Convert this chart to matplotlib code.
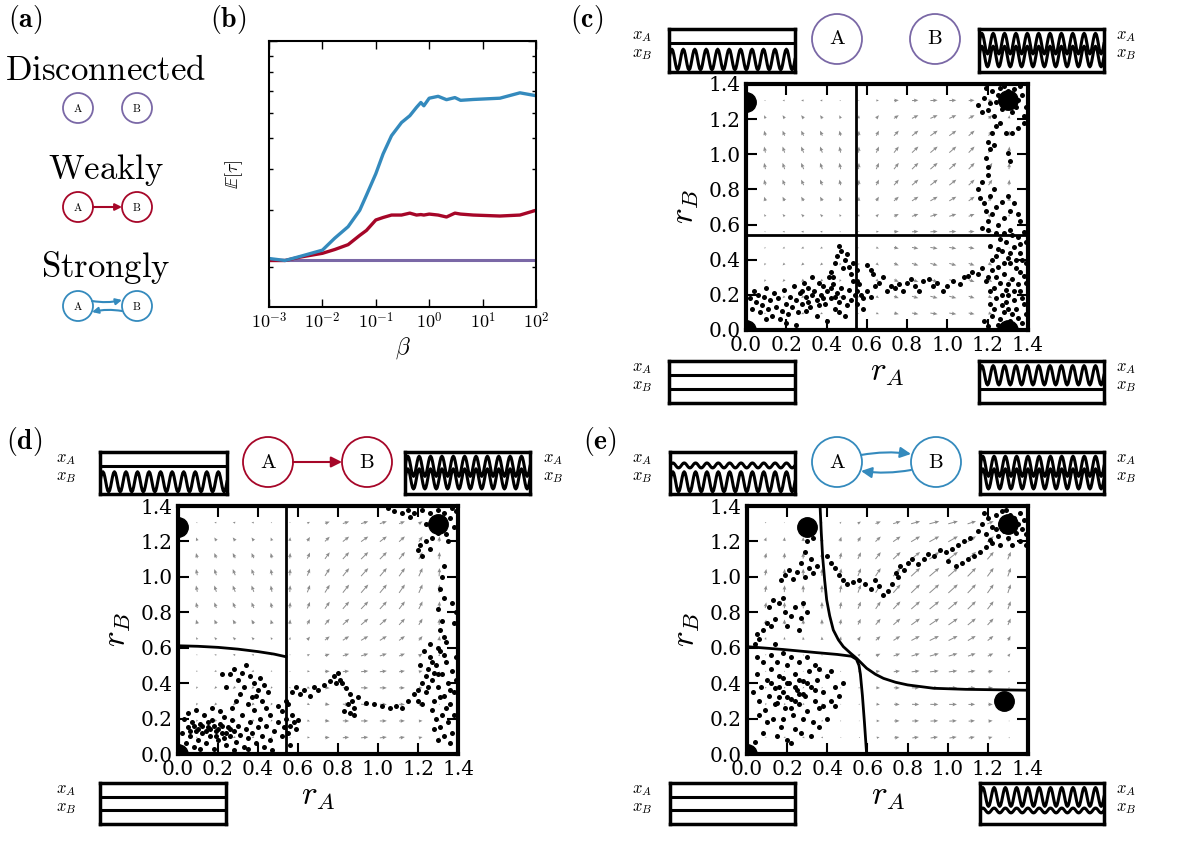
import numpy as np
import matplotlib
matplotlib.use('Agg')
import matplotlib.pyplot as plt
from matplotlib.patches import Circle
from matplotlib.ticker import NullFormatter

plt.rcParams['font.family'] = 'serif'
plt.rcParams['font.serif'] = ['DejaVu Serif']
plt.rcParams['mathtext.fontset'] = 'cm'

W, H = 1200, 852
BLUE, RED, PURPLE = '#348ABD', '#A60628', '#7A68A6'

# ---- panel (b) data: expected time vs coupling beta
beta = [0.001, 0.002, 0.00376, 0.01, 0.017, 0.0303, 0.05, 0.0668, 0.1, 0.137,
        0.197, 0.303, 0.434, 0.579, 0.698, 0.794, 1.0, 1.47, 2.11, 3.03,
        3.87, 6.68, 21.1, 50.0, 100.0]
tau_strong = [2.12, 2.09, 2.15, 2.25, 2.45, 2.66, 2.99, 3.33, 3.88, 4.47,
              5.09, 5.59, 5.87, 6.23, 6.45, 6.30, 6.65, 6.74, 6.58, 6.68,
              6.55, 6.59, 6.65, 6.91, 6.77]
tau_weak = [2.09, 2.09, 2.14, 2.20, 2.26, 2.34, 2.50, 2.59, 2.79, 2.84,
            2.89, 2.89, 2.93, 2.89, 2.90, 2.89, 2.91, 2.89, 2.85, 2.93,
            2.91, 2.89, 2.87, 2.89, 2.99]
tau_disc = [2.10] * len(beta)
beta_ticks = [1e-3, 1e-2, 1e-1, 1e0, 1e1, 1e2]

# ---- phase plane flow field (grid values)
r_grid = np.linspace(0, 1.4, 16)
f_self = [0.0, -0.012, -0.02, -0.024, -0.022, -0.012, 0.004, 0.025, 0.045,
          0.06, 0.068, 0.066, 0.055, 0.035, 0.004, -0.03]
g_weak = [0, 0, 0, 0, 0, 0, 0.005, 0.01, 0.015, 0.018, 0.02, 0.021, 0.022,
          0.022, 0.022, 0.022]
g_strong = [0, 0.002, 0.005, 0.008, 0.011, 0.014, 0.017, 0.019, 0.021, 0.022,
            0.023, 0.024, 0.025, 0.025, 0.025, 0.025]

# ---- trajectories (r_A, r_B)
pts_c = [
    (0.02,0.18),(0.03,0.12),(0.04,0.22),(0.05,0.16),(0.06,0.20),(0.07,0.10),(0.08,0.14),(0.09,0.19),
    (0.10,0.24),(0.11,0.12),(0.12,0.17),(0.13,0.08),(0.14,0.21),(0.15,0.13),(0.16,0.18),(0.17,0.06),
    (0.18,0.11),(0.19,0.23),(0.20,0.15),(0.21,0.09),(0.22,0.19),(0.23,0.13),(0.24,0.25),(0.25,0.17),
    (0.26,0.10),(0.27,0.21),(0.28,0.15),(0.29,0.27),(0.30,0.19),(0.31,0.24),(0.32,0.13),(0.33,0.30),
    (0.34,0.22),(0.35,0.17),(0.36,0.27),(0.37,0.20),(0.38,0.25),(0.39,0.15),(0.40,0.22),(0.41,0.30),
    (0.42,0.18),(0.43,0.26),(0.44,0.12),(0.45,0.21),(0.46,0.16),(0.47,0.24),(0.48,0.19),(0.49,0.08),
    (0.50,0.14),(0.51,0.23),(0.52,0.17),(0.53,0.28),(0.54,0.20),(0.35,0.08),(0.30,0.11),(0.25,0.03),
    (0.40,0.05),(0.46,0.10),(0.20,0.04),(0.10,0.06),(0.33,0.20),(0.38,0.18),(0.42,0.24),(0.28,0.22),
    (0.36,0.14),(0.44,0.19),(0.31,0.16),
    (0.42,0.33),(0.44,0.38),(0.45,0.42),(0.46,0.48),(0.47,0.45),(0.49,0.40),(0.50,0.43),(0.51,0.36),
    (0.48,0.35),(0.43,0.30),(0.52,0.32),(0.53,0.38),(0.55,0.34),
    (0.55,0.28),(0.55,0.22),(0.56,0.26),(0.55,0.15),(0.57,0.20),
    (0.58,0.18),(0.60,0.22),(0.62,0.19),(0.64,0.25),(0.66,0.27),(0.68,0.30),(0.70,0.22),(0.72,0.25),
    (0.74,0.24),(0.76,0.26),(0.78,0.22),(0.80,0.27),(0.82,0.29),(0.84,0.25),(0.86,0.22),(0.88,0.28),
    (0.91,0.29),(0.93,0.25),(0.95,0.27),(0.98,0.22),(1.00,0.25),(1.03,0.28),(1.06,0.26),(1.08,0.30),
    (1.10,0.31),(1.12,0.33),(1.15,0.32),(1.17,0.35),(0.62,0.34),(0.60,0.37),(0.63,0.32),(0.58,0.12),
    (1.20,0.02),(1.22,0.08),(1.25,0.03),(1.28,0.10),(1.31,0.05),(1.34,0.12),(1.37,0.04),(1.39,0.09),
    (1.21,0.15),(1.24,0.18),(1.27,0.14),(1.30,0.20),(1.33,0.17),(1.36,0.22),(1.38,0.15),(1.23,0.24),
    (1.26,0.27),(1.29,0.23),(1.32,0.29),(1.35,0.26),(1.38,0.31),(1.20,0.30),(1.22,0.34),(1.25,0.36),
    (1.28,0.32),(1.31,0.38),(1.34,0.35),(1.37,0.40),(1.24,0.42),(1.27,0.45),(1.30,0.41),(1.33,0.47),
    (1.36,0.44),(1.39,0.50),(1.21,0.48),(1.26,0.52),(1.29,0.50),(1.32,0.54),(1.35,0.53),(1.38,0.56),
    (1.23,0.12),(1.26,0.06),(1.29,0.16),(1.32,0.09),(1.35,0.07),(1.30,0.26),(1.27,0.20),(1.24,0.30),
    (1.33,0.22),(1.36,0.33),(1.28,0.38),(1.31,0.44),(1.25,0.46),(1.34,0.40),(1.22,0.40),(1.30,0.12),
    (1.27,0.02),(1.33,0.02),(1.37,0.18),(1.39,0.27),(1.39,0.38),(1.21,0.22),(1.19,0.28),(1.18,0.05),
    (1.36,0.49),(1.28,0.55),(1.24,0.55),(1.31,0.57),
    (1.17,0.58),(1.20,0.62),(1.22,0.66),(1.25,0.60),(1.28,0.64),(1.31,0.68),(1.18,0.72),(1.21,0.76),
    (1.15,0.80),(1.17,0.84),(1.24,0.70),(1.27,0.73),(1.30,0.76),(1.33,0.72),(1.35,0.66),(1.19,0.68),
    (1.23,0.80),(1.16,0.75),(1.20,0.57),(1.36,0.62),
    (1.20,0.88),(1.20,0.93),(1.19,0.98),(1.21,1.03),(1.20,1.07),(1.22,1.12),(1.24,1.16),(1.26,1.18),
    (1.23,1.05),(1.29,1.12),(1.32,1.12),(1.35,1.15),(1.38,1.18),(1.30,1.01),(1.31,0.96),
    (1.15,1.28),(1.18,1.32),(1.20,1.25),(1.22,1.36),(1.24,1.30),(1.26,1.38),(1.27,1.26),(1.29,1.33),
    (1.31,1.29),(1.33,1.37),(1.35,1.31),(1.37,1.34),(1.39,1.27),(1.23,1.22),(1.28,1.39),(1.32,1.24),
    (1.36,1.39),(1.19,1.38),(1.25,1.34),(1.30,1.36),(1.34,1.27),(1.38,1.22),(1.21,1.29),(1.17,1.24),
]
pts_d = [
    (0.02,0.12),(0.03,0.20),(0.04,0.06),(0.05,0.15),(0.06,0.10),(0.07,0.18),(0.08,0.04),(0.09,0.13),
    (0.10,0.08),(0.11,0.17),(0.12,0.12),(0.13,0.22),(0.14,0.06),(0.15,0.15),(0.16,0.10),(0.17,0.19),
    (0.18,0.03),(0.19,0.13),(0.20,0.08),(0.21,0.17),(0.22,0.12),(0.23,0.21),(0.24,0.05),(0.25,0.15),
    (0.26,0.10),(0.27,0.19),(0.28,0.13),(0.29,0.07),(0.30,0.16),(0.31,0.11),(0.32,0.22),(0.33,0.04),
    (0.34,0.14),(0.35,0.09),(0.36,0.18),(0.37,0.12),(0.38,0.25),(0.39,0.06),(0.40,0.15),(0.41,0.20),
    (0.42,0.10),(0.44,0.16),(0.46,0.08),(0.48,0.13),(0.50,0.18),(0.52,0.10),(0.53,0.15),(0.12,0.16),
    (0.14,0.13),(0.16,0.14),(0.18,0.16),(0.20,0.14),(0.22,0.16),(0.10,0.14),(0.08,0.16),(0.06,0.13),
    (0.24,0.12),(0.26,0.14),(0.15,0.18),(0.19,0.10),(0.23,0.09),(0.28,0.02),(0.35,0.03),(0.43,0.04),
    (0.47,0.02),(0.11,0.03),(0.05,0.23),(0.09,0.25),(0.17,0.26),(0.21,0.24),
    (0.27,0.26),(0.29,0.30),(0.31,0.34),(0.33,0.38),(0.30,0.42),(0.32,0.46),(0.28,0.48),(0.26,0.45),
    (0.34,0.50),(0.36,0.44),(0.38,0.40),(0.40,0.36),(0.42,0.30),(0.39,0.33),(0.35,0.28),(0.37,0.32),
    (0.41,0.43),(0.44,0.26),(0.46,0.22),(0.45,0.35),(0.43,0.39),(0.24,0.38),(0.22,0.45),
    (0.50,0.27),(0.52,0.24),(0.54,0.20),(0.55,0.12),(0.56,0.16),(0.57,0.22),(0.58,0.18),(0.60,0.19),
    (0.55,0.28),(0.56,0.05),(0.59,0.14),(0.54,0.30),
    (0.57,0.35),(0.59,0.38),(0.61,0.34),(0.63,0.36),(0.66,0.33),(0.68,0.38),(0.70,0.36),(0.73,0.39),
    (0.76,0.41),(0.78,0.44),(0.80,0.46),(0.81,0.42),(0.79,0.40),(0.82,0.40),(0.84,0.37),(0.86,0.34),
    (0.87,0.30),(0.85,0.28),(0.83,0.24),(0.86,0.23),(0.88,0.26),(0.90,0.32),(0.94,0.29),(0.98,0.28),
    (1.02,0.27),(1.06,0.26),(1.09,0.27),(1.12,0.26),(1.15,0.30),(1.18,0.34),(1.20,0.36),(0.88,0.22),
    (1.20,0.30),(1.22,0.40),(1.24,0.35),(1.25,0.48),(1.26,0.55),(1.27,0.42),(1.28,0.30),(1.29,0.50),
    (1.30,0.38),(1.31,0.58),(1.32,0.45),(1.33,0.33),(1.34,0.52),(1.35,0.40),(1.36,0.28),(1.37,0.47),
    (1.38,0.35),(1.39,0.55),(1.23,0.58),(1.26,0.62),(1.30,0.60),(1.34,0.63),(1.27,0.25),(1.29,0.20),
    (1.31,0.15),(1.33,0.10),(1.30,0.08),(1.35,0.18),(1.37,0.12),(1.28,0.14),(1.32,0.22),(1.36,0.06),
    (1.25,0.38),(1.28,0.46),(1.31,0.32),(1.34,0.26),(1.38,0.22),(1.39,0.42),(1.27,0.52),(1.33,0.56),
    (1.24,0.44),(1.21,0.50),(1.22,0.28),(1.30,0.45),(1.36,0.36),
    (1.31,0.70),(1.33,0.66),(1.32,0.75),(1.30,0.82),(1.33,0.88),(1.31,0.93),(1.32,1.00),(1.33,1.06),
    (1.39,0.80),(1.38,0.74),(1.37,0.85),
    (1.20,1.15),(1.22,1.12),(1.21,1.18),(1.24,1.20),(1.26,1.16),(1.27,1.22),(1.30,1.25),(1.32,1.30),
    (1.34,1.24),(1.36,1.33),(1.38,1.28),(1.28,1.32),(1.30,1.38),(1.26,1.36),(1.24,1.30),(1.33,1.36),
    (1.35,1.20),(1.39,1.37),(1.22,1.38),(1.18,1.36),(1.15,1.38),(1.12,1.36),(1.08,1.37),(1.05,1.39),
    (1.16,1.34),(1.29,1.28),(1.37,1.39),(1.31,1.33),
]
pts_e = [
    (0.05,0.45),(0.06,0.30),(0.07,0.38),(0.08,0.52),(0.09,0.25),(0.10,0.42),(0.11,0.33),(0.12,0.48),
    (0.13,0.20),(0.14,0.37),(0.15,0.29),(0.16,0.44),(0.17,0.15),(0.18,0.35),(0.19,0.26),(0.20,0.50),
    (0.21,0.40),(0.22,0.31),(0.23,0.22),(0.24,0.45),(0.25,0.36),(0.26,0.28),(0.27,0.12),(0.28,0.41),
    (0.29,0.33),(0.30,0.24),(0.31,0.47),(0.32,0.38),(0.33,0.18),(0.34,0.30),(0.35,0.42),(0.36,0.26),
    (0.38,0.35),(0.40,0.44),(0.42,0.30),(0.44,0.38),(0.46,0.33),(0.48,0.40),(0.12,0.56),(0.15,0.52),
    (0.18,0.57),(0.22,0.55),(0.26,0.52),(0.30,0.55),(0.34,0.50),(0.10,0.18),(0.15,0.10),(0.20,0.08),
    (0.24,0.14),(0.22,0.06),(0.18,0.20),(0.28,0.20),(0.32,0.10),(0.04,0.07),(0.08,0.12),(0.14,0.28),
    (0.16,0.38),(0.20,0.32),(0.24,0.38),(0.26,0.42),(0.22,0.26),(0.18,0.43),(0.28,0.34),(0.12,0.40),
    (0.20,0.40),(0.24,0.30),(0.16,0.32),(0.30,0.40),(0.26,0.34),(0.34,0.36),(0.38,0.27),(0.40,0.20),
    (0.36,0.48),(0.42,0.47),(0.44,0.27),(0.06,0.22),(0.03,0.35),(0.05,0.55),(0.36,0.15),(0.14,0.62),
    (0.04,0.62),(0.06,0.65),(0.08,0.70),(0.05,0.68),(0.10,0.74),(0.12,0.72),(0.14,0.76),(0.11,0.83),
    (0.13,0.87),(0.16,0.85),(0.18,0.88),(0.19,0.80),(0.22,0.78),(0.24,0.83),(0.27,0.77),(0.28,0.85),
    (0.30,0.80),(0.17,0.98),(0.19,1.01),(0.21,1.04),(0.23,0.99),(0.25,1.03),(0.27,1.08),(0.29,1.00),
    (0.31,1.05),(0.33,1.02),(0.35,1.06),(0.32,1.10),(0.29,1.14),(0.30,1.20),(0.33,1.22),(0.28,1.25),
    (0.31,1.27),(0.26,0.70),(0.20,0.72),
    (0.40,1.12),(0.42,1.08),(0.44,1.05),(0.46,1.01),(0.48,0.98),(0.50,0.96),(0.53,0.97),(0.56,0.98),
    (0.59,0.96),(0.62,0.93),(0.64,0.98),(0.66,0.95),(0.70,0.92),(0.72,0.96),(0.74,1.02),(0.76,1.06),
    (0.78,1.04),(0.80,1.08),(0.82,1.10),(0.85,1.07),(0.88,1.10),(0.90,1.13),(0.93,1.12),(0.96,1.15),
    (0.99,1.14),(1.02,1.16),(1.05,1.18),(1.08,1.20),(1.11,1.22),(1.00,1.09),(1.04,1.06),(1.07,1.08),
    (1.10,1.10),(1.13,1.12),(1.16,1.14),(1.19,1.17),(1.22,1.19),(0.75,1.00),(0.68,0.90),
    (1.15,1.26),(1.17,1.30),(1.19,1.24),(1.20,1.33),(1.22,1.28),(1.24,1.35),(1.25,1.23),(1.26,1.30),
    (1.27,1.37),(1.28,1.26),(1.29,1.32),(1.30,1.22),(1.31,1.35),(1.32,1.28),(1.33,1.33),(1.34,1.25),
    (1.35,1.30),(1.36,1.36),(1.37,1.27),(1.38,1.32),(1.39,1.24),(1.30,1.29),(1.27,1.31),(1.33,1.30),
    (1.24,1.27),(1.21,1.21),(1.36,1.20),(1.29,1.38),(1.39,1.18),(1.26,1.18),(1.32,1.18),(1.18,1.36),
]

# fixed points
fix_c = [(0, 1.3), (0, 0), (1.3, 1.31), (1.3, 0)]
fix_d = [(0, 1.28), (0, 0), (1.3, 1.3)]
fix_e = [(0.3, 1.28), (0, 0), (1.3, 1.3), (1.28, 0.3)]

# separatrices
sep_c = [[(0.545, 0), (0.545, 1.4)], [(0, 0.54), (1.4, 0.54)]]
sep_d = [[(0.54, 0), (0.54, 1.4)],
         [(0, 0.611), (0.1, 0.608), (0.2, 0.602), (0.3, 0.592), (0.4, 0.578),
          (0.48, 0.564), (0.54, 0.549)]]
sep_e = [[(0.364, 1.4), (0.37, 1.25), (0.377, 1.11), (0.387, 0.98), (0.397, 0.87),
          (0.412, 0.78), (0.43, 0.70), (0.455, 0.645), (0.48, 0.606), (0.515, 0.57),
          (0.546, 0.54), (0.596, 0.484), (0.64, 0.45), (0.68, 0.427), (0.74, 0.405),
          (0.80, 0.39), (0.93, 0.371), (1.09, 0.365), (1.4, 0.36)],
         [(0, 0.606), (0.18, 0.59), (0.35, 0.572), (0.45, 0.562), (0.52, 0.552),
          (0.545, 0.535), (0.558, 0.50), (0.565, 0.45), (0.575, 0.33), (0.585, 0.18),
          (0.596, 0)]]

# one cycle of the oscillation glyph drawn in the little trace boxes
wave_cycle = [0, 0.5, 0.87, 1, 0.87, 0.5, 0, -0.5, -0.87, -1, -0.87, -0.5]
# (centre, amplitude) of x_A and x_B in each trace box
tr_rest = [(0.67, 0.0), (0.33, 0.0)]
tr_b_only = [(0.67, 0.0), (0.29, 0.24)]
tr_a_only = [(0.66, 0.23), (0.33, 0.0)]
tr_both = [(0.66, 0.24), (0.36, 0.24)]
tr_b_big = [(0.68, 0.06), (0.29, 0.24)]
tr_a_big = [(0.66, 0.23), (0.33, 0.06)]


def rect(l, t, r, b):
    return [l / W, 1 - b / H, (r - l) / W, (b - t) / H]


fig = plt.figure(figsize=(12, 8.52), dpi=100)
ov = fig.add_axes([0, 0, 1, 1])
ov.set_xlim(0, W)
ov.set_ylim(H, 0)
ov.axis('off')


def node(x, y, r, label, color, fs):
    ov.add_patch(Circle((x, y), r, fill=False, ec=color, lw=1.3))
    ov.text(x, y, r'$\mathrm{%s}$' % label, ha='center', va='center', fontsize=fs)


def edge(p0, p1, color, rad=0.0, ms=14):
    ov.annotate('', xy=p1, xytext=p0,
                arrowprops=dict(arrowstyle='-|>', color=color, lw=1.5, mutation_scale=ms,
                                shrinkA=0, shrinkB=0, connectionstyle='arc3,rad=%s' % rad))


def panel_label(x, y, s):
    ov.text(x, y, r'$(\mathbf{%s})$' % s, fontsize=20, ha='left', va='center')


# ---- (a)
panel_label(8, 20, 'a')
for y, name in [(70, 'Disconnected'), (170, 'Weakly'), (268, 'Strongly')]:
    ov.text(106, y, r'$\mathrm{%s}$' % name, fontsize=25, ha='center', va='center')
node(78, 108, 15, 'A', PURPLE, 8)
node(137, 108, 15, 'B', PURPLE, 8)
node(78, 207, 15, 'A', RED, 8)
node(137, 207, 15, 'B', RED, 8)
edge((93, 207), (122, 207), RED, ms=10)
node(78, 306, 15, 'A', BLUE, 8)
node(137, 306, 15, 'B', BLUE, 8)
edge((92, 301), (122, 300), BLUE, rad=0.1, ms=9)
edge((122, 311), (92, 312), BLUE, rad=0.1, ms=9)

# ---- (b)
panel_label(210, 20, 'b')
axb = fig.add_axes(rect(269, 41, 536, 307))
axb.plot(beta, tau_disc, color=PURPLE, lw=2.2)
axb.plot(beta, tau_weak, color=RED, lw=2.4)
axb.plot(beta, tau_strong, color=BLUE, lw=2.4)
axb.set_xscale('log')
axb.set_yscale('log')
axb.set_xlim(1e-3, 1e2)
axb.set_ylim(1.5, 10)
axb.set_xticks(beta_ticks)
axb.set_xticklabels([r'$10^{%d}$' % int(round(np.log10(b))) for b in beta_ticks])
axb.yaxis.set_major_formatter(NullFormatter())
axb.yaxis.set_minor_formatter(NullFormatter())
axb.tick_params(which='both', direction='in', top=True, right=True, labelsize=13, width=1)
axb.tick_params(which='major', length=6)
axb.tick_params(which='minor', length=3)
for s in axb.spines.values():
    s.set_linewidth(1.5)
axb.set_xlabel(r'$\beta$', fontsize=17, labelpad=2)
axb.set_ylabel(r'$\mathbb{E}[\tau]$', fontsize=13, labelpad=14)

# ---- phase planes
GX, GY = np.meshgrid(r_grid, r_grid)
F = np.array(f_self)


def phase(pos, pts, fixed, seps, U, V):
    ax = fig.add_axes(rect(*pos))
    ax.quiver(GX, GY, U, V, color='0.55', angles='xy', scale_units='xy', scale=1.9,
              width=0.0035, headwidth=3.8, headlength=4.5, headaxislength=4, pivot='mid', zorder=1)
    for s in seps:
        s = np.array(s)
        ax.plot(s[:, 0], s[:, 1], color='k', lw=2, zorder=2)
    p = np.array(pts)
    ax.scatter(p[:, 0], p[:, 1], s=13, color='k', lw=0, zorder=3)
    fx = np.array(fixed)
    ax.plot(fx[:, 0], fx[:, 1], 'o', color='k', ms=14, zorder=4)
    ax.set_xlim(0, 1.4)
    ax.set_ylim(0, 1.4)
    ticks = [0.0, 0.2, 0.4, 0.6, 0.8, 1.0, 1.2, 1.4]
    ax.set_xticks(ticks)
    ax.set_yticks(ticks)
    ax.set_xticklabels(['%.1f' % t for t in ticks])
    ax.set_yticklabels(['%.1f' % t for t in ticks])
    ax.tick_params(direction='in', top=True, right=True, length=8, width=1.5, labelsize=14.5)
    ax.tick_params(axis='x', pad=4)
    ax.tick_params(axis='y', pad=4)
    for s in ax.spines.values():
        s.set_linewidth(3)
    ax.set_xlabel(r'$r_A$', fontsize=24, labelpad=1)
    ax.set_ylabel(r'$r_B$', fontsize=24, labelpad=5)
    return ax


def trace_box(pos, traces, lab_x):
    ax = fig.add_axes(rect(*pos))
    n_cyc = 11
    wave = np.array(wave_cycle * n_cyc + [0])
    x = np.linspace(0, 1, len(wave))
    for c, a in traces:
        ax.plot(x, c + a * wave, color='k', lw=2.2)
    ax.set_xlim(0, 1)
    ax.set_ylim(0, 1)
    ax.set_xticks([])
    ax.set_yticks([])
    for s in ax.spines.values():
        s.set_linewidth(2.5)
    yc = (pos[1] + pos[3]) / 2
    ov.text(lab_x, yc - 6, r'$x_A$', fontsize=12, ha='center', va='bottom')
    ov.text(lab_x, yc - 5, r'$x_B$', fontsize=12, ha='center', va='top')


# (c) disconnected
panel_label(570, 20, 'c')
U = np.tile(F, (16, 1))
V = U.T
phase((746, 84, 1028, 330), pts_c, fix_c, sep_c, U, V)
trace_box((669, 29, 795, 72), tr_b_only, 642)
trace_box((979, 29, 1104, 72), tr_both, 1126)
trace_box((669, 361, 795, 403), tr_rest, 642)
trace_box((979, 361, 1104, 403), tr_a_only, 1126)
node(837, 39, 25, 'A', PURPLE, 15)
node(935, 39, 25, 'B', PURPLE, 15)

# (d) weakly connected A -> B
panel_label(6, 442, 'd')
Gw = np.array(g_weak)
U = np.tile(F, (16, 1))
V = U.T + np.tile(Gw, (16, 1))
phase((178, 506, 458, 754), pts_d, fix_d, sep_d, U, V)
trace_box((100, 452, 227, 494), tr_b_only, 66)
trace_box((405, 452, 530, 494), tr_both, 553)
trace_box((100, 783, 226, 824), tr_rest, 66)
node(268, 462, 25, 'A', RED, 15)
node(367, 462, 25, 'B', RED, 15)
edge((293, 462), (342, 462), RED, ms=16)

# (e) strongly connected A <-> B
panel_label(583, 442, 'e')
Gs = np.array(g_strong)
U = np.tile(F, (16, 1)) + np.tile(Gs, (16, 1)).T
V = U.T.copy()
phase((747, 506, 1028, 754), pts_e, fix_e, sep_e, U, V)
trace_box((670, 452, 795, 494), tr_b_big, 642)
trace_box((980, 452, 1104, 494), tr_both, 1126)
trace_box((670, 783, 795, 824), tr_rest, 642)
trace_box((980, 783, 1104, 824), tr_a_big, 1126)
node(837, 462, 25, 'A', BLUE, 15)
node(936, 462, 25, 'B', BLUE, 15)
edge((861, 455), (911, 454), BLUE, rad=-0.08, ms=16)
edge((911, 470), (861, 471), BLUE, rad=-0.08, ms=16)

fig.savefig('out.png', dpi=100)
